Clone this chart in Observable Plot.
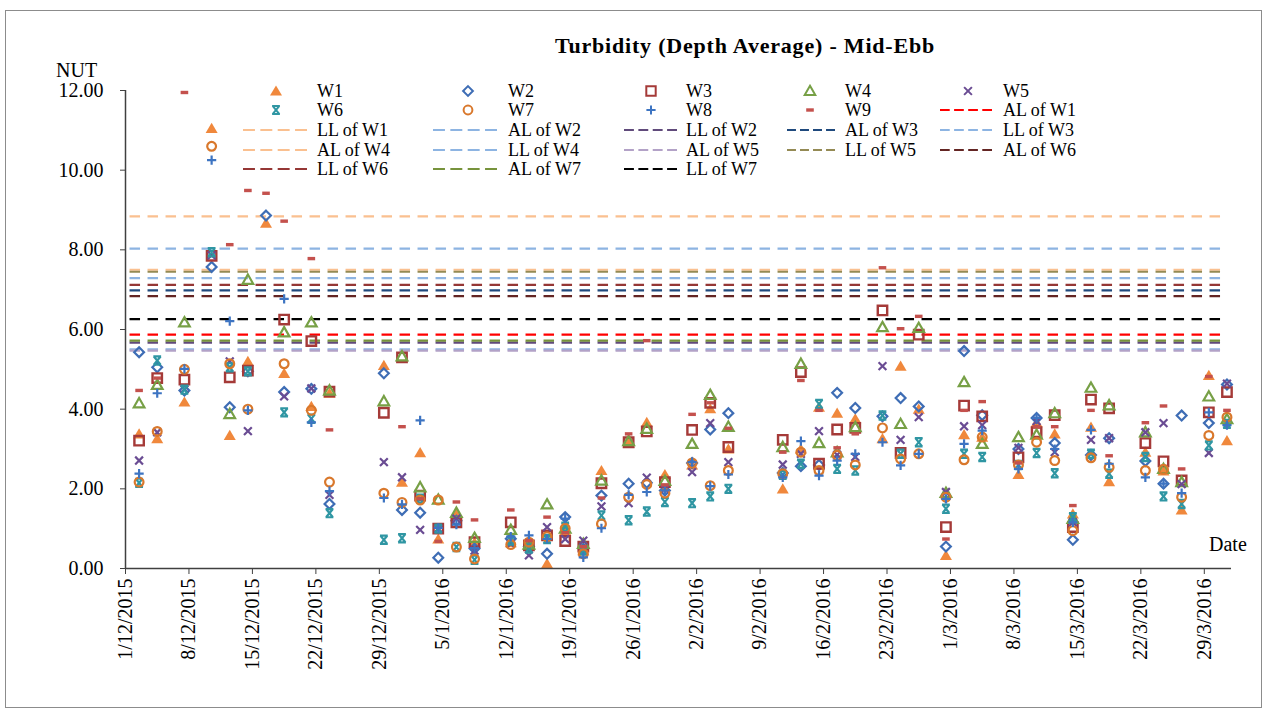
<!DOCTYPE html>
<html><head><meta charset="utf-8">
<script src="https://cdn.jsdelivr.net/npm/d3@7"></script>
<script src="https://cdn.jsdelivr.net/npm/@observablehq/plot@0.6"></script>
<style>
body{margin:0;background:#fff;}
#wrap{position:relative;width:1267px;height:718px;font-family:"Liberation Serif","Times New Roman",Times,"DejaVu Serif",serif;color:#000;overflow:hidden;}
#border{position:absolute;left:5px;top:10px;width:1257px;height:698px;border:1px solid #8c8c8c;box-sizing:border-box;pointer-events:none;}
#chart{position:absolute;left:0;top:0;}
#title{position:absolute;left:495px;width:500px;top:34px;text-align:center;font-weight:bold;font-size:22px;letter-spacing:0.8px;line-height:24px;}
#nut{position:absolute;left:56px;top:59px;font-size:20px;line-height:22px;}
#date{position:absolute;left:1209px;top:533px;font-size:20px;line-height:22px;}
.lg{position:absolute;font-size:18px;line-height:20px;white-space:nowrap;}
.ls{position:absolute;}
</style></head>
<body>
<div id="wrap">
  <div id="chart"></div>
  <div id="title">Turbidity (Depth Average) - Mid-Ebb</div>
  <div id="nut">NUT</div>
  <div id="date">Date</div>
  <div id="legend"></div>
  <div id="border"></div>
</div>
<script>
// ---------- data ----------
const dates = ["2015-12-02","2015-12-04","2015-12-07","2015-12-10","2015-12-12","2015-12-14","2015-12-16","2015-12-18","2015-12-21","2015-12-23",
"2015-12-29","2015-12-31","2016-01-02","2016-01-04","2016-01-06","2016-01-08","2016-01-12","2016-01-14","2016-01-16","2016-01-18",
"2016-01-20","2016-01-22","2016-01-25","2016-01-27","2016-01-29","2016-02-01","2016-02-03","2016-02-05","2016-02-11","2016-02-13",
"2016-02-15","2016-02-17","2016-02-19","2016-02-22","2016-02-24","2016-02-26","2016-02-29","2016-03-02","2016-03-04","2016-03-08",
"2016-03-10","2016-03-12","2016-03-14","2016-03-16","2016-03-18","2016-03-22","2016-03-24","2016-03-26","2016-03-29","2016-03-31"];

const W1 = [3.38,3.26,4.18,11.05,3.34,5.2,8.67,4.90,4.07,4.4, 5.10,2.17,2.91,0.74,1.35,0.65,0.65,0.65,0.12,0.95, 0.45,2.46,3.15,3.67,2.36,2.6,4.01,3.0,2.00,3.0, 4.05,3.90,3.76,3.26,5.08,4.0,0.33,3.36,3.3,2.36, 3.66,3.38,1.37,3.55,2.18,2.92,2.45,1.47,4.85,3.21];
const W2 = [5.43,5.05,4.47,7.57,4.05,4.95,8.86,4.43,4.51,1.62, 4.90,1.47,1.40,0.27,1.2,0.5,0.75,0.55,0.37,1.29, 0.5,1.83,2.13,2.15,1.96,2.65,3.49,3.90,2.4,2.57, 2.6,4.41,4.03,3.82,4.28,4.07,0.55,5.46,3.85,3.0, 3.78,3.15,0.72,2.85,3.27,2.70,2.13,3.84,3.65,4.62];
const W3 = [3.21,4.78,4.74,7.85,4.8,4.97,null,6.25,5.71,4.44, 3.91,5.30,1.83,1.0,1.16,0.66,1.16,0.58,0.83,0.69, 0.55,2.14,3.17,3.44,2.17,3.48,4.16,3.05,3.23,4.93, 2.63,3.49,3.53,6.48,2.90,5.87,1.04,4.09,3.82,2.79, 3.42,3.85,1.04,4.24,4.02,3.15,2.69,2.21,3.92,4.43];
const W4 = [4.15,4.61,6.18,null,3.88,7.25,null,5.93,6.18,4.47, 4.20,5.33,2.04,1.73,1.40,0.77,0.97,0.6,1.61,1.0, 0.62,2.21,3.20,3.51,2.20,3.13,4.36,3.56,3.05,5.14, 3.15,2.92,3.55,6.06,3.63,6.04,1.9,4.68,3.13,3.30, 3.36,3.90,1.25,4.54,4.10,3.42,2.5,2.17,4.32,3.75];
const W5 = [2.71,3.42,4.5,7.86,5.2,3.45,null,4.32,4.52,1.85, 2.67,2.29,0.97,1.0,1.25,0.45,0.62,0.33,1.04,0.74, 0.70,1.56,1.64,2.28,2.0,2.42,3.65,2.67,2.61,2.88, 3.45,2.85,2.80,5.08,3.23,3.80,1.92,3.57,3.6,3.03, 3.7,2.92,1.16,3.23,3.27,3.42,3.65,2.12,2.90,4.64];
const W6 = [2.15,5.22,4.49,7.94,5.05,4.95,null,3.92,3.76,1.39, 0.72,0.76,1.75,1.0,0.54,0.22,0.7,0.5,0.74,1.05, 0.45,1.33,1.21,1.43,1.67,1.64,1.81,2.00,2.35,2.63, 4.13,2.50,2.46,3.84,2.88,3.17,1.50,2.88,2.80,2.6, 2.90,2.39,1.29,2.88,2.38,2.80,1.81,1.62,3.09,3.63];
const W7 = [2.17,3.44,5.0,10.6,5.14,4.0,null,5.14,3.97,2.17, 1.89,1.66,1.72,1.72,0.54,0.24,0.60,0.66,0.8,1.01, 0.37,1.12,1.79,2.11,1.89,2.65,2.08,2.46,2.38,2.92, 2.46,2.84,2.60,3.53,2.75,2.88,1.79,2.73,3.30,2.6, 3.17,2.71,0.95,2.78,2.54,2.46,2.49,1.79,3.34,3.80];
const W8 = [2.38,4.40,5.01,10.25,6.21,3.97,null,6.77,3.67,1.94, 1.77,1.61,3.72,1.02,1.1,0.51,0.80,0.83,0.74,1.25, 0.28,1.01,1.85,1.92,1.96,2.67,2.07,2.36,2.29,3.20, 2.33,2.71,2.88,3.17,2.59,2.88,1.75,3.13,3.46,2.50, 3.78,3.0,1.16,3.48,2.63,2.29,2.13,1.89,3.92,3.6];
const W9 = [4.47,4.78,11.95,null,8.13,9.49,9.42,8.72,7.78,3.48, null,3.56,1.75,0.68,1.67,1.22,1.47,0.70,1.29,0.9, 0.55,1.77,3.38,5.72,2.1,3.87,4.16,3.52,2.92,4.72, 3.97,3.03,3.38,7.55,6.02,6.33,0.74,3.97,4.19,2.65, 3.56,3.56,1.58,3.97,2.83,3.66,4.08,2.50,4.82,3.97];

const seriesNames = ["W1","W2","W3","W4","W5","W6","W7","W8","W9"];
const seriesValues = [W1,W2,W3,W4,W5,W6,W7,W8,W9];
const seriesColors = ["#F0883C","#3E6DB5","#A53A38","#77A046","#6A4C93","#2F96A3","#D9782C","#3D74C2","#C4514D"];
const seriesShapes = ["triFill","diamond","square","tri","x","hourglass","circle","plus","dash"];

const limitNames  = ["AL of W1","LL of W1","AL of W2","LL of W2","AL of W3","LL of W3","AL of W4","LL of W4","AL of W5","LL of W5","AL of W6","LL of W6","AL of W7","LL of W7"];
const limitValues = [5.87, 8.84, 5.50, 5.67, 6.98, 7.29, 7.50, 8.03, 5.47, 7.45, 6.84, 7.12, 5.72, 6.26];
const limitColors = ["#FF0000","#FAC090","#8DB4E2","#604A7B","#1F497D","#8DB4E2","#FAC090","#8DB4E2","#B3A2C7","#948A54","#632523","#953735","#77933C","#000000"];
const limitRange  = ["2015-12-01","2016-03-31"];

const xDomainLabels = ["2015-12-01","2016-04-01"];
const xTickLabels = ["1/12/2015","8/12/2015","15/12/2015","22/12/2015","29/12/2015","5/1/2016","12/1/2016","19/1/2016","26/1/2016","2/2/2016","9/2/2016","16/2/2016","23/2/2016","1/3/2016","8/3/2016","15/3/2016","22/3/2016","29/3/2016"];
const yTickLabels = ["0.00","2.00","4.00","6.00","8.00","10.00","12.00"];

// ---------- helpers ----------
const FONT = '"Liberation Serif","Times New Roman",Times,"DejaVu Serif",serif';
const HALF_DAY = 12 * 3600 * 1000;
const parseDMY = s => { const [d,m,y] = s.split("/").map(Number); return new Date(Date.UTC(y, m-1, d)); };
const isoDate = s => new Date(s + "T00:00:00Z");
const center = s => new Date(+isoDate(s) + HALF_DAY);   // each date sits in the middle of its day
const xTicks = xTickLabels.map(parseDMY);
const yTicks = yTickLabels.map(Number);
const fmtDMY = d => `${d.getUTCDate()}/${d.getUTCMonth()+1}/${d.getUTCFullYear()}`;

const shapeDraw = {
  triFill: c => { c.moveTo(0,-5.6); c.lineTo(6,4.6); c.lineTo(-6,4.6); c.closePath(); },
  tri: c => { c.moveTo(0,-5.2); c.lineTo(5.3,4.1); c.lineTo(-5.3,4.1); c.closePath(); },
  diamond: c => { c.moveTo(0,-4.9); c.lineTo(4.9,0); c.lineTo(0,4.9); c.lineTo(-4.9,0); c.closePath(); },
  square: c => { c.moveTo(-4.7,-4.7); c.lineTo(4.7,-4.7); c.lineTo(4.7,4.7); c.lineTo(-4.7,4.7); c.closePath(); },
  x: c => { c.moveTo(-3.9,-3.9); c.lineTo(3.9,3.9); c.moveTo(-3.9,3.9); c.lineTo(3.9,-3.9); },
  hourglass: c => { c.moveTo(-3.9,-4.1); c.lineTo(3.9,-4.1); c.moveTo(-3.9,4.1); c.lineTo(3.9,4.1); c.moveTo(-3.4,-4.1); c.lineTo(3.4,4.1); c.moveTo(-3.4,4.1); c.lineTo(3.4,-4.1); },
  circle: c => { c.moveTo(4.4,0); c.arc(0,0,4.4,0,2*Math.PI); c.closePath(); },
  plus: c => { c.moveTo(-4.6,0); c.lineTo(4.6,0); c.moveTo(0,-4.6); c.lineTo(0,4.6); },
  dash: c => { c.moveTo(-3.8,-1.7); c.lineTo(3.8,-1.7); c.lineTo(3.8,1.7); c.lineTo(-3.8,1.7); c.closePath(); }
};
const filledShapes = new Set(["triFill","dash"]);
const makeSymbol = key => ({ draw(ctx) { shapeDraw[key](ctx); } });

// ---------- tables ----------
const pointRows = seriesNames.map((name, i) =>
  dates.map((d, j) => ({ series: name, date: center(d), value: seriesValues[i][j] }))
       .filter(r => r.value != null));
const limitRows = limitNames.map((name, i) => ({ name, value: limitValues[i], color: limitColors[i] }));
const lineStart = center(limitRange[0]), lineEnd = center(limitRange[1]);

// ---------- plot ----------
const marks = [];
limitRows.forEach(l => {
  marks.push(Plot.ruleY([l], { y: "value", x1: () => lineStart, x2: () => lineEnd,
    stroke: l.color, strokeWidth: 2.2, strokeDasharray: "10.5,7.5" }));
});
seriesNames.forEach((name, i) => {
  const shape = seriesShapes[i], filled = filledShapes.has(shape);
  marks.push(Plot.dot(pointRows[i], { x: "date", y: "value", r: 4,
    symbol: makeSymbol(shape),
    fill: filled ? seriesColors[i] : "none",
    stroke: filled ? "none" : seriesColors[i],
    strokeWidth: shape === "square" ? 2.4 : 2.2 }));
});
marks.push(Plot.ruleY([yTicks[0]], { stroke: "#404040", strokeWidth: 1.5 }));
marks.push(Plot.ruleX([isoDate(xDomainLabels[0])], { stroke: "#404040", strokeWidth: 1.5 }));
marks.push(Plot.axisY({ ticks: yTicks, tickFormat: d => d.toFixed(2), tickSize: 5, tickPadding: 17, stroke: "#404040", label: null, fontFamily: FONT }));
marks.push(Plot.axisX({ ticks: xTicks, tickFormat: fmtDMY, tickRotate: -90, tickSize: 6, tickPadding: 4, stroke: "#404040", label: null, fontFamily: FONT }));

const chart = Plot.plot({
  width: 1267, height: 718,
  marginTop: 90, marginBottom: 150, marginLeft: 125, marginRight: 36,
  style: { fontFamily: FONT, fontSize: "20px", background: "transparent", color: "#000" },
  x: { type: "utc", domain: xDomainLabels.map(isoDate) },
  y: { domain: [0, 12] },
  marks
});
document.getElementById("chart").appendChild(chart);

// ---------- legend ----------
const legendItems = [
  ...seriesNames.map((n, i) => ({ label: n, kind: "symbol", shape: seriesShapes[i], color: seriesColors[i] })),
  ...limitRows.map(l => ({ label: l.name, kind: "line", color: l.color }))
];
const colText = [317, 508, 686, 845, 1003];
const colSymOff = [41, 40, 35, 35, 35];
const colLine = [[-74, -10], [-75, -11], [-62, -9], [-58, -10], [-63, -11]];
const rowMid = [91, 110, 130, 149.5, 169];
const legend = document.getElementById("legend");
legendItems.forEach((it, k) => {
  const row = Math.floor(k / 5), col = k % 5;
  const tx = colText[col], cy = rowMid[row];
  const t = document.createElement("div");
  t.className = "lg"; t.textContent = it.label;
  t.style.left = tx + "px"; t.style.top = (cy - 10) + "px";
  legend.appendChild(t);
  const svg = d3.create("svg").attr("class", "ls").attr("width", 80).attr("height", 14)
    .style("left", (tx - 80) + "px").style("top", (cy - 7) + "px");
  if (it.kind === "line") {
    const [a, b] = colLine[col];
    const w = b - a, dl = w / 5.35, gl = dl * 0.45;
    svg.append("line").attr("x1", 80 + a).attr("x2", 80 + b).attr("y1", 7).attr("y2", 7)
      .attr("stroke", it.color).attr("stroke-width", 2.2).attr("stroke-dasharray", `${dl},${gl}`);
  } else {
    const p = d3.path(); shapeDraw[it.shape](p);
    const filled = filledShapes.has(it.shape);
    svg.append("path").attr("transform", `translate(${80 - colSymOff[col]},7)`).attr("d", p.toString())
      .attr("fill", filled ? it.color : "none").attr("stroke", filled ? "none" : it.color)
      .attr("stroke-width", 2);
  }
  legend.appendChild(svg.node());
});
</script>
</body></html>
